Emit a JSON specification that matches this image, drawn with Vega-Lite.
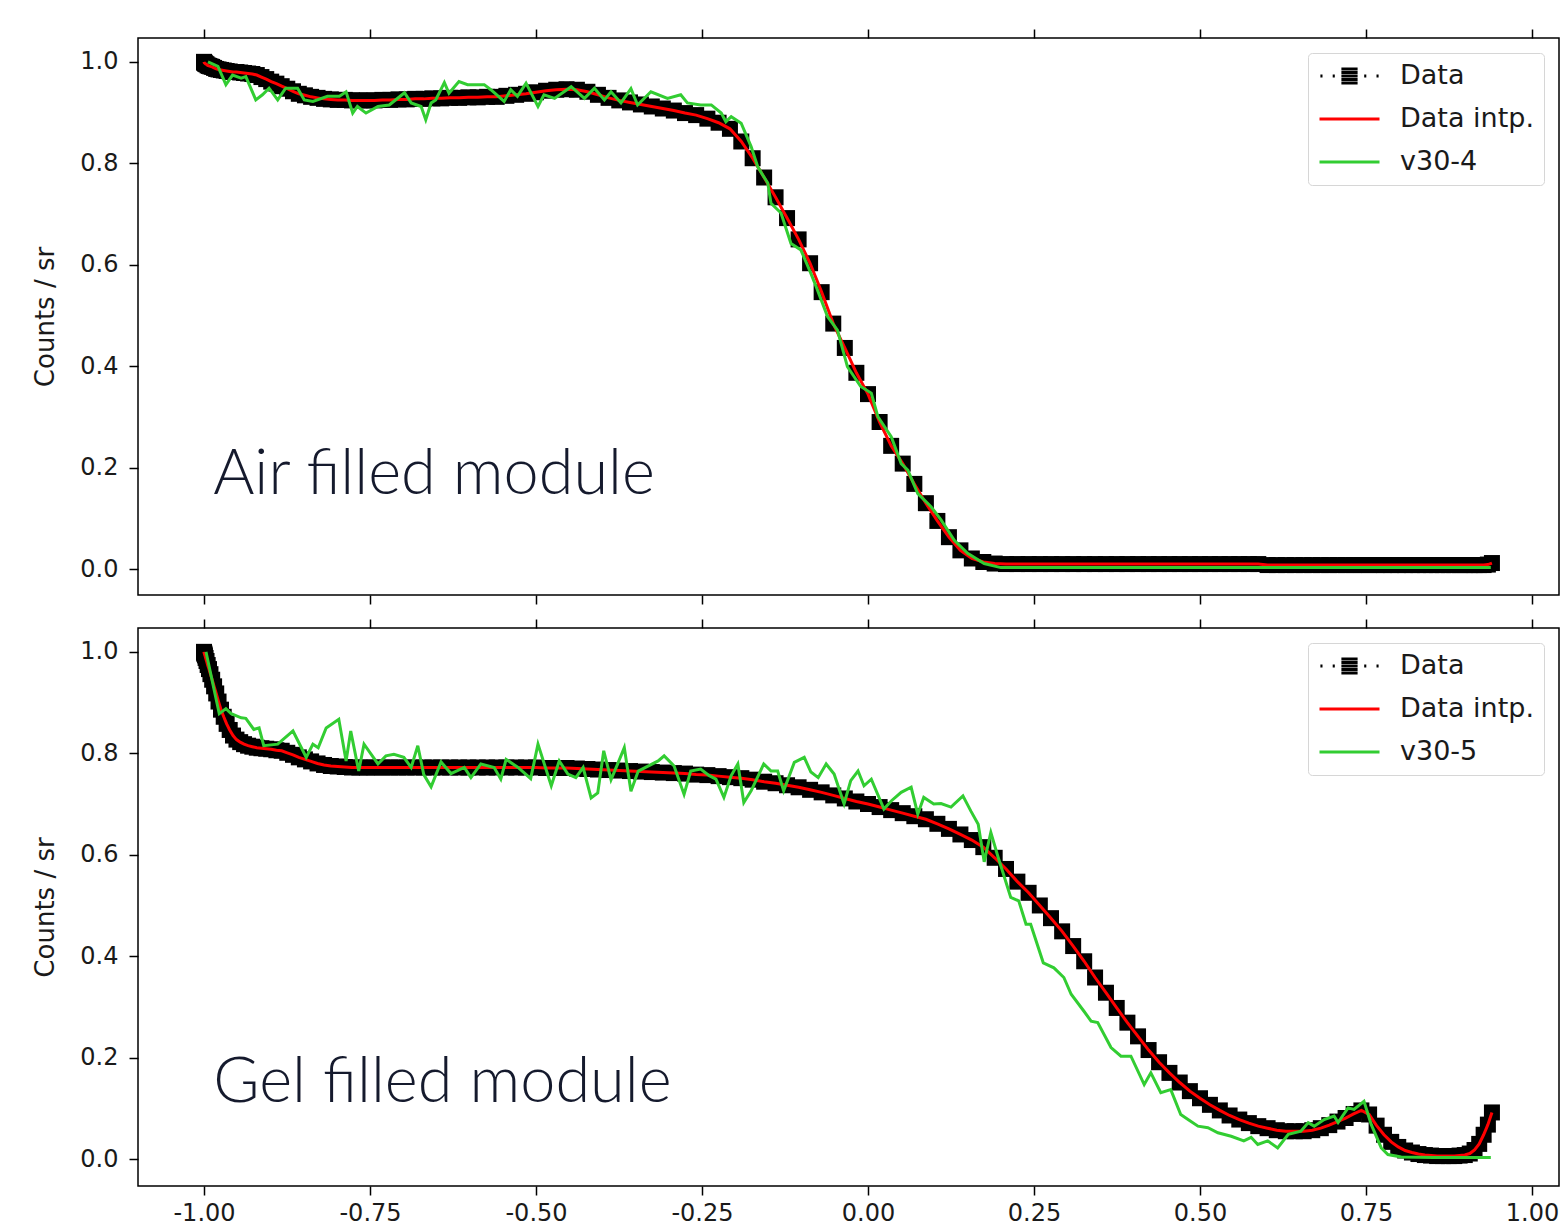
{
  "$schema": "https://vega.github.io/schema/vega-lite/v6.json",
  "padding": {"left": 32, "top": 27, "right": 5, "bottom": 5},
  "background": "white",
  "spacing": 11,
  "resolve": {"scale": {"color": "independent", "shape": "independent"}, "legend": {"color": "independent", "shape": "independent"}},
  "config": {
    "font": "DejaVu Sans",
    "view": {"stroke": "black", "strokeWidth": 1.5},
    "axis": {"domain": false, "grid": false, "tickColor": "black", "tickWidth": 1.5, "tickSize": 9, "labelPadding": 11, "labelFont": "DejaVu Sans", "labelFontSize": 24, "labelColor": "#1a1a1a", "titleFont": "DejaVu Sans", "titleFontSize": 26, "titleFontWeight": "normal", "titleColor": "#1a1a1a"},
    "legend": {"title": null, "orient": "top-right", "offset": 15, "padding": 10, "fillColor": "rgba(255,255,255,0.85)", "strokeColor": "#d6d6d6", "cornerRadius": 4, "labelFont": "DejaVu Sans", "labelFontSize": 27, "labelColor": "#1a1a1a", "symbolSize": 3600, "clipHeight": 26, "symbolStrokeWidth": 3, "symbolOpacity": 1, "labelOffset": 19, "rowPadding": 16}
  },
  "datasets": {
    "topData": [
      {"x":-1.0,"y":1.000},{"x":-0.9998,"y":0.999},{"x":-0.9994,"y":0.998},{"x":-0.9986,"y":0.997},{"x":-0.9976,"y":0.996},{"x":-0.9962,"y":0.995},{"x":-0.9945,"y":0.993},{"x":-0.9925,"y":0.992},{"x":-0.9903,"y":0.991},{"x":-0.9877,"y":0.990},
      {"x":-0.9848,"y":0.988},{"x":-0.9816,"y":0.986},{"x":-0.9781,"y":0.985},{"x":-0.9744,"y":0.984},{"x":-0.9703,"y":0.983},{"x":-0.9659,"y":0.982},{"x":-0.9613,"y":0.981},{"x":-0.9563,"y":0.980},{"x":-0.9511,"y":0.980},{"x":-0.9455,"y":0.979},
      {"x":-0.9397,"y":0.978},{"x":-0.9336,"y":0.977},{"x":-0.9272,"y":0.976},{"x":-0.9205,"y":0.974},{"x":-0.9135,"y":0.970},{"x":-0.9063,"y":0.966},{"x":-0.8988,"y":0.961},{"x":-0.891,"y":0.957},{"x":-0.883,"y":0.952},{"x":-0.8746,"y":0.947},
      {"x":-0.866,"y":0.942},{"x":-0.8572,"y":0.937},{"x":-0.848,"y":0.934},{"x":-0.8387,"y":0.931},{"x":-0.829,"y":0.929},{"x":-0.8192,"y":0.927},{"x":-0.809,"y":0.926},{"x":-0.7986,"y":0.925},{"x":-0.788,"y":0.925},{"x":-0.7771,"y":0.924},
      {"x":-0.766,"y":0.924},{"x":-0.7547,"y":0.924},{"x":-0.7431,"y":0.924},{"x":-0.7314,"y":0.925},{"x":-0.7193,"y":0.925},{"x":-0.7071,"y":0.926},{"x":-0.6947,"y":0.926},{"x":-0.682,"y":0.927},{"x":-0.6691,"y":0.927},{"x":-0.6561,"y":0.928},
      {"x":-0.6428,"y":0.928},{"x":-0.6293,"y":0.929},{"x":-0.6157,"y":0.929},{"x":-0.6018,"y":0.930},{"x":-0.5878,"y":0.930},{"x":-0.5736,"y":0.931},{"x":-0.5592,"y":0.931},{"x":-0.5446,"y":0.933},{"x":-0.5299,"y":0.935},{"x":-0.515,"y":0.937},
      {"x":-0.5,"y":0.940},{"x":-0.4848,"y":0.943},{"x":-0.4695,"y":0.945},{"x":-0.454,"y":0.946},{"x":-0.4384,"y":0.945},{"x":-0.4226,"y":0.941},{"x":-0.4067,"y":0.935},{"x":-0.3907,"y":0.929},{"x":-0.3746,"y":0.924},{"x":-0.3584,"y":0.920},
      {"x":-0.342,"y":0.916},{"x":-0.3256,"y":0.912},{"x":-0.309,"y":0.908},{"x":-0.2924,"y":0.904},{"x":-0.2756,"y":0.899},{"x":-0.2588,"y":0.895},{"x":-0.2419,"y":0.888},{"x":-0.225,"y":0.880},{"x":-0.2079,"y":0.868},{"x":-0.1908,"y":0.843},
      {"x":-0.1737,"y":0.810},{"x":-0.1564,"y":0.772},{"x":-0.1392,"y":0.733},{"x":-0.1219,"y":0.692},{"x":-0.1045,"y":0.650},{"x":-0.0872,"y":0.603},{"x":-0.0698,"y":0.546},{"x":-0.0523,"y":0.484},{"x":-0.0349,"y":0.436},{"x":-0.0175,"y":0.387},
      {"x":0.0,"y":0.345},{"x":0.0175,"y":0.290},{"x":0.0349,"y":0.243},{"x":0.0523,"y":0.208},{"x":0.0698,"y":0.168},{"x":0.0872,"y":0.130},{"x":0.1045,"y":0.095},{"x":0.1219,"y":0.063},{"x":0.1392,"y":0.037},{"x":0.1564,"y":0.021},
      {"x":0.1737,"y":0.014},{"x":0.1908,"y":0.011},{"x":0.2079,"y":0.010},{"x":0.225,"y":0.010},{"x":0.2419,"y":0.010},{"x":0.2588,"y":0.010},{"x":0.2756,"y":0.010},{"x":0.2924,"y":0.010},{"x":0.309,"y":0.010},{"x":0.3256,"y":0.010},
      {"x":0.342,"y":0.010},{"x":0.3584,"y":0.010},{"x":0.3746,"y":0.010},{"x":0.3907,"y":0.010},{"x":0.4067,"y":0.010},{"x":0.4226,"y":0.010},{"x":0.4384,"y":0.010},{"x":0.454,"y":0.010},{"x":0.4695,"y":0.010},{"x":0.4848,"y":0.010},
      {"x":0.5,"y":0.010},{"x":0.515,"y":0.010},{"x":0.5299,"y":0.010},{"x":0.5446,"y":0.010},{"x":0.5592,"y":0.010},{"x":0.5736,"y":0.010},{"x":0.5878,"y":0.010},{"x":0.6018,"y":0.008},{"x":0.6157,"y":0.008},{"x":0.6293,"y":0.008},
      {"x":0.6428,"y":0.008},{"x":0.6561,"y":0.008},{"x":0.6691,"y":0.008},{"x":0.682,"y":0.008},{"x":0.6947,"y":0.008},{"x":0.7071,"y":0.008},{"x":0.7193,"y":0.008},{"x":0.7314,"y":0.008},{"x":0.7431,"y":0.008},{"x":0.7547,"y":0.008},
      {"x":0.766,"y":0.008},{"x":0.7771,"y":0.008},{"x":0.788,"y":0.008},{"x":0.7986,"y":0.008},{"x":0.809,"y":0.008},{"x":0.8192,"y":0.008},{"x":0.829,"y":0.008},{"x":0.8387,"y":0.008},{"x":0.848,"y":0.008},{"x":0.8572,"y":0.008},
      {"x":0.866,"y":0.008},{"x":0.8746,"y":0.008},{"x":0.883,"y":0.008},{"x":0.891,"y":0.008},{"x":0.8988,"y":0.008},{"x":0.9063,"y":0.008},{"x":0.9135,"y":0.008},{"x":0.9205,"y":0.008},{"x":0.9272,"y":0.008},{"x":0.9336,"y":0.009},
      {"x":0.9397,"y":0.012}
    ],
    "topSim": [
      {"x":-0.994,"y":1.000},{"x":-0.979,"y":0.991},{"x":-0.967,"y":0.955},{"x":-0.957,"y":0.974},{"x":-0.944,"y":0.968},{"x":-0.937,"y":0.971},{"x":-0.922,"y":0.925},{"x":-0.912,"y":0.935},{"x":-0.902,"y":0.948},{"x":-0.889,"y":0.925},
      {"x":-0.877,"y":0.948},{"x":-0.859,"y":0.948},{"x":-0.849,"y":0.925},{"x":-0.836,"y":0.922},{"x":-0.814,"y":0.932},{"x":-0.796,"y":0.932},{"x":-0.786,"y":0.941},{"x":-0.776,"y":0.899},{"x":-0.769,"y":0.912},{"x":-0.756,"y":0.899},
      {"x":-0.738,"y":0.912},{"x":-0.721,"y":0.915},{"x":-0.698,"y":0.939},{"x":-0.688,"y":0.919},{"x":-0.673,"y":0.912},{"x":-0.666,"y":0.886},{"x":-0.658,"y":0.919},{"x":-0.651,"y":0.925},{"x":-0.638,"y":0.959},{"x":-0.631,"y":0.938},
      {"x":-0.616,"y":0.961},{"x":-0.603,"y":0.955},{"x":-0.578,"y":0.955},{"x":-0.568,"y":0.945},{"x":-0.548,"y":0.922},{"x":-0.538,"y":0.945},{"x":-0.528,"y":0.932},{"x":-0.515,"y":0.958},{"x":-0.497,"y":0.912},{"x":-0.488,"y":0.935},
      {"x":-0.472,"y":0.928},{"x":-0.447,"y":0.951},{"x":-0.427,"y":0.928},{"x":-0.412,"y":0.948},{"x":-0.397,"y":0.925},{"x":-0.387,"y":0.941},{"x":-0.372,"y":0.919},{"x":-0.357,"y":0.947},{"x":-0.347,"y":0.915},{"x":-0.327,"y":0.941},
      {"x":-0.302,"y":0.928},{"x":-0.282,"y":0.935},{"x":-0.272,"y":0.919},{"x":-0.252,"y":0.915},{"x":-0.236,"y":0.915},{"x":-0.221,"y":0.899},{"x":-0.214,"y":0.882},{"x":-0.206,"y":0.892},{"x":-0.191,"y":0.879},{"x":-0.176,"y":0.833},
      {"x":-0.166,"y":0.793},{"x":-0.151,"y":0.761},{"x":-0.146,"y":0.721},{"x":-0.131,"y":0.702},{"x":-0.116,"y":0.642},{"x":-0.101,"y":0.629},{"x":-0.086,"y":0.583},{"x":-0.076,"y":0.550},{"x":-0.061,"y":0.498},{"x":-0.046,"y":0.471},
      {"x":-0.031,"y":0.399},{"x":-0.011,"y":0.360},{"x":0.005,"y":0.347},{"x":0.015,"y":0.300},{"x":0.035,"y":0.261},{"x":0.05,"y":0.208},{"x":0.06,"y":0.195},{"x":0.075,"y":0.149},{"x":0.095,"y":0.123},{"x":0.11,"y":0.097},
      {"x":0.13,"y":0.057},{"x":0.15,"y":0.031},{"x":0.175,"y":0.011},{"x":0.2,"y":0.003},{"x":0.5,"y":0.003},{"x":0.938,"y":0.003}
    ],
    "botData": [
      {"x":-1.0,"y":1.000},{"x":-0.9998,"y":0.998},{"x":-0.9994,"y":0.996},{"x":-0.9986,"y":0.993},{"x":-0.9976,"y":0.988},{"x":-0.9962,"y":0.982},{"x":-0.9945,"y":0.974},{"x":-0.9925,"y":0.966},{"x":-0.9903,"y":0.956},{"x":-0.9877,"y":0.945},
      {"x":-0.9848,"y":0.932},{"x":-0.9816,"y":0.918},{"x":-0.9781,"y":0.902},{"x":-0.9744,"y":0.886},{"x":-0.9703,"y":0.872},{"x":-0.9659,"y":0.858},{"x":-0.9613,"y":0.846},{"x":-0.9563,"y":0.835},{"x":-0.9511,"y":0.827},{"x":-0.9455,"y":0.822},
      {"x":-0.9397,"y":0.818},{"x":-0.9336,"y":0.815},{"x":-0.9272,"y":0.813},{"x":-0.9205,"y":0.811},{"x":-0.9135,"y":0.810},{"x":-0.9063,"y":0.809},{"x":-0.8988,"y":0.808},{"x":-0.891,"y":0.806},{"x":-0.883,"y":0.805},{"x":-0.8746,"y":0.801},
      {"x":-0.866,"y":0.797},{"x":-0.8572,"y":0.792},{"x":-0.848,"y":0.788},{"x":-0.8387,"y":0.784},{"x":-0.829,"y":0.780},{"x":-0.8192,"y":0.777},{"x":-0.809,"y":0.775},{"x":-0.7986,"y":0.774},{"x":-0.788,"y":0.773},{"x":-0.7771,"y":0.772},
      {"x":-0.766,"y":0.772},{"x":-0.7547,"y":0.772},{"x":-0.7431,"y":0.772},{"x":-0.7314,"y":0.772},{"x":-0.7193,"y":0.772},{"x":-0.7071,"y":0.772},{"x":-0.6947,"y":0.772},{"x":-0.682,"y":0.772},{"x":-0.6691,"y":0.772},{"x":-0.6561,"y":0.772},
      {"x":-0.6428,"y":0.772},{"x":-0.6293,"y":0.772},{"x":-0.6157,"y":0.772},{"x":-0.6018,"y":0.772},{"x":-0.5878,"y":0.772},{"x":-0.5736,"y":0.772},{"x":-0.5592,"y":0.772},{"x":-0.5446,"y":0.772},{"x":-0.5299,"y":0.772},{"x":-0.515,"y":0.772},
      {"x":-0.5,"y":0.772},{"x":-0.4848,"y":0.771},{"x":-0.4695,"y":0.771},{"x":-0.454,"y":0.771},{"x":-0.4384,"y":0.770},{"x":-0.4226,"y":0.769},{"x":-0.4067,"y":0.768},{"x":-0.3907,"y":0.767},{"x":-0.3746,"y":0.766},{"x":-0.3584,"y":0.765},
      {"x":-0.342,"y":0.764},{"x":-0.3256,"y":0.763},{"x":-0.309,"y":0.762},{"x":-0.2924,"y":0.761},{"x":-0.2756,"y":0.760},{"x":-0.2588,"y":0.758},{"x":-0.2419,"y":0.757},{"x":-0.225,"y":0.755},{"x":-0.2079,"y":0.753},{"x":-0.1908,"y":0.751},
      {"x":-0.1737,"y":0.748},{"x":-0.1564,"y":0.744},{"x":-0.1392,"y":0.741},{"x":-0.1219,"y":0.737},{"x":-0.1045,"y":0.733},{"x":-0.0872,"y":0.728},{"x":-0.0698,"y":0.723},{"x":-0.0523,"y":0.717},{"x":-0.0349,"y":0.711},{"x":-0.0175,"y":0.705},
      {"x":0.0,"y":0.700},{"x":0.0175,"y":0.694},{"x":0.0349,"y":0.688},{"x":0.0523,"y":0.682},{"x":0.0698,"y":0.676},{"x":0.0872,"y":0.670},{"x":0.1045,"y":0.661},{"x":0.1219,"y":0.651},{"x":0.1392,"y":0.640},{"x":0.1564,"y":0.629},
      {"x":0.1737,"y":0.615},{"x":0.1908,"y":0.594},{"x":0.2079,"y":0.572},{"x":0.225,"y":0.547},{"x":0.2419,"y":0.525},{"x":0.2588,"y":0.500},{"x":0.2756,"y":0.475},{"x":0.2924,"y":0.449},{"x":0.309,"y":0.420},{"x":0.3256,"y":0.390},
      {"x":0.342,"y":0.358},{"x":0.3584,"y":0.328},{"x":0.3746,"y":0.298},{"x":0.3907,"y":0.269},{"x":0.4067,"y":0.242},{"x":0.4226,"y":0.215},{"x":0.4384,"y":0.191},{"x":0.454,"y":0.170},{"x":0.4695,"y":0.151},{"x":0.4848,"y":0.134},
      {"x":0.5,"y":0.120},{"x":0.515,"y":0.107},{"x":0.5299,"y":0.096},{"x":0.5446,"y":0.086},{"x":0.5592,"y":0.078},{"x":0.5736,"y":0.071},{"x":0.5878,"y":0.065},{"x":0.6018,"y":0.061},{"x":0.6157,"y":0.057},{"x":0.6293,"y":0.055},
      {"x":0.6428,"y":0.055},{"x":0.6561,"y":0.055},{"x":0.6691,"y":0.057},{"x":0.682,"y":0.061},{"x":0.6947,"y":0.067},{"x":0.7071,"y":0.074},{"x":0.7193,"y":0.081},{"x":0.7314,"y":0.089},{"x":0.7431,"y":0.096},{"x":0.7547,"y":0.088},
      {"x":0.766,"y":0.066},{"x":0.7771,"y":0.048},{"x":0.788,"y":0.034},{"x":0.7986,"y":0.024},{"x":0.809,"y":0.017},{"x":0.8192,"y":0.013},{"x":0.829,"y":0.010},{"x":0.8387,"y":0.008},{"x":0.848,"y":0.007},{"x":0.8572,"y":0.006},
      {"x":0.866,"y":0.006},{"x":0.8746,"y":0.006},{"x":0.883,"y":0.006},{"x":0.891,"y":0.007},{"x":0.8988,"y":0.008},{"x":0.9063,"y":0.011},{"x":0.9135,"y":0.018},{"x":0.9205,"y":0.030},{"x":0.9272,"y":0.048},{"x":0.9336,"y":0.068},
      {"x":0.9397,"y":0.092}
    ],
    "botSim": [
      {"x":-0.997,"y":1.000},{"x":-0.977,"y":0.878},{"x":-0.967,"y":0.888},{"x":-0.959,"y":0.878},{"x":-0.944,"y":0.870},{"x":-0.937,"y":0.869},{"x":-0.925,"y":0.847},{"x":-0.917,"y":0.850},{"x":-0.910,"y":0.815},{"x":-0.889,"y":0.818},
      {"x":-0.866,"y":0.844},{"x":-0.846,"y":0.792},{"x":-0.836,"y":0.818},{"x":-0.828,"y":0.811},{"x":-0.816,"y":0.850},{"x":-0.797,"y":0.867},{"x":-0.786,"y":0.785},{"x":-0.779,"y":0.844},{"x":-0.767,"y":0.765},{"x":-0.759,"y":0.818},
      {"x":-0.738,"y":0.779},{"x":-0.726,"y":0.795},{"x":-0.714,"y":0.798},{"x":-0.699,"y":0.792},{"x":-0.688,"y":0.772},{"x":-0.678,"y":0.815},{"x":-0.669,"y":0.758},{"x":-0.658,"y":0.734},{"x":-0.643,"y":0.783},{"x":-0.628,"y":0.760},
      {"x":-0.608,"y":0.772},{"x":-0.598,"y":0.752},{"x":-0.583,"y":0.779},{"x":-0.563,"y":0.772},{"x":-0.553,"y":0.749},{"x":-0.545,"y":0.788},{"x":-0.527,"y":0.772},{"x":-0.508,"y":0.750},{"x":-0.497,"y":0.818},{"x":-0.477,"y":0.736},
      {"x":-0.465,"y":0.785},{"x":-0.452,"y":0.759},{"x":-0.440,"y":0.752},{"x":-0.429,"y":0.772},{"x":-0.417,"y":0.712},{"x":-0.407,"y":0.722},{"x":-0.398,"y":0.805},{"x":-0.387,"y":0.748},{"x":-0.377,"y":0.779},{"x":-0.367,"y":0.811},
      {"x":-0.357,"y":0.725},{"x":-0.346,"y":0.765},{"x":-0.316,"y":0.785},{"x":-0.307,"y":0.795},{"x":-0.292,"y":0.775},{"x":-0.277,"y":0.719},{"x":-0.267,"y":0.765},{"x":-0.252,"y":0.769},{"x":-0.239,"y":0.756},{"x":-0.229,"y":0.749},
      {"x":-0.217,"y":0.713},{"x":-0.206,"y":0.756},{"x":-0.196,"y":0.779},{"x":-0.187,"y":0.703},{"x":-0.176,"y":0.726},{"x":-0.157,"y":0.779},{"x":-0.146,"y":0.765},{"x":-0.136,"y":0.765},{"x":-0.127,"y":0.726},{"x":-0.111,"y":0.782},
      {"x":-0.096,"y":0.792},{"x":-0.086,"y":0.763},{"x":-0.075,"y":0.752},{"x":-0.063,"y":0.779},{"x":-0.051,"y":0.759},{"x":-0.036,"y":0.700},{"x":-0.026,"y":0.746},{"x":-0.015,"y":0.765},{"x":-0.006,"y":0.736},{"x":0.005,"y":0.749},
      {"x":0.024,"y":0.690},{"x":0.035,"y":0.706},{"x":0.050,"y":0.723},{"x":0.065,"y":0.733},{"x":0.075,"y":0.680},{"x":0.084,"y":0.713},{"x":0.099,"y":0.700},{"x":0.110,"y":0.701},{"x":0.125,"y":0.694},{"x":0.143,"y":0.716},
      {"x":0.155,"y":0.686},{"x":0.166,"y":0.660},{"x":0.175,"y":0.586},{"x":0.185,"y":0.644},{"x":0.196,"y":0.595},{"x":0.215,"y":0.516},{"x":0.227,"y":0.509},{"x":0.238,"y":0.463},{"x":0.245,"y":0.463},{"x":0.264,"y":0.387},
      {"x":0.280,"y":0.377},{"x":0.295,"y":0.358},{"x":0.306,"y":0.325},{"x":0.325,"y":0.292},{"x":0.336,"y":0.272},{"x":0.346,"y":0.269},{"x":0.366,"y":0.220},{"x":0.381,"y":0.203},{"x":0.396,"y":0.203},{"x":0.416,"y":0.147},
      {"x":0.426,"y":0.170},{"x":0.441,"y":0.131},{"x":0.456,"y":0.137},{"x":0.471,"y":0.088},{"x":0.482,"y":0.078},{"x":0.497,"y":0.065},{"x":0.512,"y":0.062},{"x":0.527,"y":0.052},{"x":0.547,"y":0.045},{"x":0.566,"y":0.036},
      {"x":0.577,"y":0.043},{"x":0.587,"y":0.029},{"x":0.602,"y":0.036},{"x":0.617,"y":0.022},{"x":0.633,"y":0.049},{"x":0.652,"y":0.055},{"x":0.663,"y":0.072},{"x":0.672,"y":0.065},{"x":0.687,"y":0.078},{"x":0.702,"y":0.085},
      {"x":0.708,"y":0.072},{"x":0.723,"y":0.101},{"x":0.732,"y":0.098},{"x":0.747,"y":0.114},{"x":0.758,"y":0.068},{"x":0.773,"y":0.022},{"x":0.783,"y":0.009},{"x":0.803,"y":0.004},{"x":0.852,"y":0.003},{"x":0.938,"y":0.003}
    ]
  },
  "vconcat": [
    {
      "width": 1421,
      "height": 557,
      "resolve": {"axis": {"x": "independent", "y": "shared"}},
      "layer": [
        {
          "data": {"name": "topData"},
          "mark": {"type": "point", "shape": "square", "filled": true, "size": 256, "opacity": 1, "strokeWidth": 0, "color": "#000000"},
          "encoding": {
            "x": {"field": "x", "type": "quantitative", "scale": {"domain": [-1.0994, 1.0407], "nice": false, "zero": false}, "axis": {"orient": "bottom", "values": [-1, -0.75, -0.5, -0.25, 0, 0.25, 0.5, 0.75, 1], "labels": false, "title": null}},
            "y": {"field": "y", "type": "quantitative", "scale": {"domain": [-0.051, 1.047], "nice": false, "zero": false}, "axis": {"orient": "left", "values": [0, 0.2, 0.4, 0.6, 0.8, 1.0], "format": ".1f", "title": "Counts / sr", "titlePadding": 21}}
          }
        },
        {
          "data": {"name": "topData"},
          "mark": {"type": "line", "strokeWidth": 3, "color": "#ff0000"},
          "encoding": {
            "x": {"field": "x", "type": "quantitative", "axis": {"orient": "top", "values": [-1, -0.75, -0.5, -0.25, 0, 0.25, 0.5, 0.75, 1], "labels": false, "title": null}},
            "y": {"field": "y", "type": "quantitative", "axis": {"orient": "left", "values": [0, 0.2, 0.4, 0.6, 0.8, 1.0], "format": ".1f", "title": "Counts / sr", "titlePadding": 21}}
          }
        },
        {
          "data": {"name": "topSim"},
          "mark": {"type": "line", "strokeWidth": 3, "color": "#32cd32"},
          "encoding": {
            "x": {"field": "x", "type": "quantitative", "axis": null},
            "y": {"field": "y", "type": "quantitative", "axis": {"orient": "left", "values": [0, 0.2, 0.4, 0.6, 0.8, 1.0], "format": ".1f", "title": "Counts / sr", "titlePadding": 21}}
          }
        },
        {
          "data": {"values": [{"s": "Data"}, {"s": "Data intp."}, {"s": "v30-4"}]},
          "mark": {"type": "point", "filled": false, "strokeWidth": 3, "opacity": 0},
          "encoding": {
            "color": {"field": "s", "type": "nominal", "scale": {"domain": ["Data", "Data intp.", "v30-4"], "range": ["#000000", "#ff0000", "#32cd32"]}, "legend": {"title": null}},
            "shape": {"field": "s", "type": "nominal", "scale": {"domain": ["Data", "Data intp.", "v30-4"], "range": ["M-0.27,-0.23H0.27M-0.27,-0.115H0.27M-0.27,0H0.27M-0.27,0.115H0.27M-0.27,0.23H0.27M-0.97,0H-0.9M-0.56,0H-0.49M0.49,0H0.56M0.9,0H0.97", "stroke", "stroke"]}, "legend": {"title": null}}
          }
        },
        {
          "data": {"values": [{}]},
          "mark": {"type": "text", "text": "Air filled module", "font": "Lato", "fontWeight": 300, "fontSize": 63, "align": "left", "baseline": "alphabetic", "color": "#151a2d"},
          "encoding": {
            "x": {"datum": -0.986, "type": "quantitative", "axis": null},
            "y": {"datum": 0.148, "type": "quantitative", "axis": {"orient": "left", "values": [0, 0.2, 0.4, 0.6, 0.8, 1.0], "format": ".1f", "title": "Counts / sr", "titlePadding": 21}}
          }
        }
      ]
    },
    {
      "width": 1421,
      "height": 558,
      "resolve": {"axis": {"x": "independent", "y": "shared"}},
      "layer": [
        {
          "data": {"name": "botData"},
          "mark": {"type": "point", "shape": "square", "filled": true, "size": 256, "opacity": 1, "strokeWidth": 0, "color": "#000000"},
          "encoding": {
            "x": {"field": "x", "type": "quantitative", "scale": {"domain": [-1.0994, 1.0407], "nice": false, "zero": false}, "axis": {"orient": "bottom", "values": [-1, -0.75, -0.5, -0.25, 0, 0.25, 0.5, 0.75, 1], "labelPadding": 6, "labelExpr": "datum.value < 0 ? '-' + format(-datum.value, '.2f') : format(datum.value, '.2f')", "title": null}},
            "y": {"field": "y", "type": "quantitative", "scale": {"domain": [-0.053, 1.047], "nice": false, "zero": false}, "axis": {"orient": "left", "values": [0, 0.2, 0.4, 0.6, 0.8, 1.0], "format": ".1f", "title": "Counts / sr", "titlePadding": 21}}
          }
        },
        {
          "data": {"name": "botData"},
          "mark": {"type": "line", "strokeWidth": 3, "color": "#ff0000"},
          "encoding": {
            "x": {"field": "x", "type": "quantitative", "axis": {"orient": "top", "values": [-1, -0.75, -0.5, -0.25, 0, 0.25, 0.5, 0.75, 1], "labels": false, "title": null}},
            "y": {"field": "y", "type": "quantitative", "axis": {"orient": "left", "values": [0, 0.2, 0.4, 0.6, 0.8, 1.0], "format": ".1f", "title": "Counts / sr", "titlePadding": 21}}
          }
        },
        {
          "data": {"name": "botSim"},
          "mark": {"type": "line", "strokeWidth": 3, "color": "#32cd32"},
          "encoding": {
            "x": {"field": "x", "type": "quantitative", "axis": null},
            "y": {"field": "y", "type": "quantitative", "axis": {"orient": "left", "values": [0, 0.2, 0.4, 0.6, 0.8, 1.0], "format": ".1f", "title": "Counts / sr", "titlePadding": 21}}
          }
        },
        {
          "data": {"values": [{"s": "Data"}, {"s": "Data intp."}, {"s": "v30-5"}]},
          "mark": {"type": "point", "filled": false, "strokeWidth": 3, "opacity": 0},
          "encoding": {
            "color": {"field": "s", "type": "nominal", "scale": {"domain": ["Data", "Data intp.", "v30-5"], "range": ["#000000", "#ff0000", "#32cd32"]}, "legend": {"title": null}},
            "shape": {"field": "s", "type": "nominal", "scale": {"domain": ["Data", "Data intp.", "v30-5"], "range": ["M-0.27,-0.23H0.27M-0.27,-0.115H0.27M-0.27,0H0.27M-0.27,0.115H0.27M-0.27,0.23H0.27M-0.97,0H-0.9M-0.56,0H-0.49M0.49,0H0.56M0.9,0H0.97", "stroke", "stroke"]}, "legend": {"title": null}}
          }
        },
        {
          "data": {"values": [{}]},
          "mark": {"type": "text", "text": "Gel filled module", "font": "Lato", "fontWeight": 300, "fontSize": 63, "align": "left", "baseline": "alphabetic", "color": "#151a2d"},
          "encoding": {
            "x": {"datum": -0.986, "type": "quantitative", "axis": null},
            "y": {"datum": 0.113, "type": "quantitative", "axis": {"orient": "left", "values": [0, 0.2, 0.4, 0.6, 0.8, 1.0], "format": ".1f", "title": "Counts / sr", "titlePadding": 21}}
          }
        }
      ]
    }
  ]
}
